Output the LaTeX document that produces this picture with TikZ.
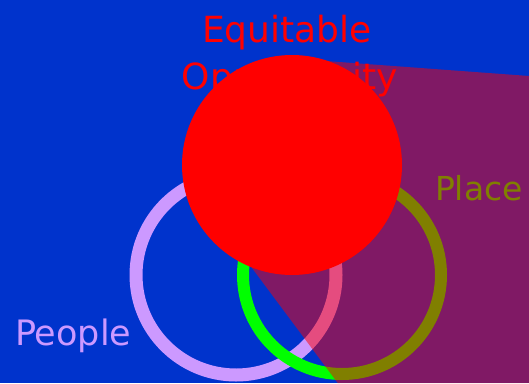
\documentclass[tikz,border=0pt]{standalone}
\usepackage{fontspec}
\setmainfont{DejaVu Sans}
\definecolor{bgblue}{HTML}{0033CC}
\definecolor{lav}{HTML}{CC99FF}
\definecolor{grn}{HTML}{00FF00}
\definecolor{rd}{HTML}{FF0000}
\tikzset{
  ring/.style={circle, draw, inner sep=0pt, outer sep=0pt, minimum size=#1},
  lbl/.style={inner sep=0pt, outer sep=0pt, anchor=base, font=\fontsize{36}{36}\selectfont},
  beam/.style={fill=rd, fill opacity=0.5},
}
\begin{document}
\begin{tikzpicture}[x=1pt, y=-1pt]
\useasboundingbox (0,0) rectangle (529,383);
\fill[bgblue] (0,0) rectangle (529,383);
% rings
\node[ring=200pt, draw=lav, line width=13pt] (people) at (236,275) {};
\node[ring=198pt, draw=grn, line width=12pt] (place) at (342,275) {};
% labels
\node[lbl, anchor=base west, text=lav, font=\fontsize{35}{35}\selectfont] (peoplelbl) at (15,345) {People};
\node[lbl, anchor=base west, text=grn, font=\fontsize{33}{33}\selectfont] (placelbl) at (435,200) {Place};
\node[lbl, text=rd] (eq) at (287,42) {Equitable};
\node[lbl, text=rd] (opp) at (290,89) {Opportunity};
% translucent beam
\path[beam]
  (292,165) -- (320,60.6) -- (529,76) -- (529,383) -- (337.7,383) -- (245,258.6) -- cycle;
% red circle
\node[circle, fill=rd, inner sep=0pt, outer sep=0pt, minimum size=220pt] (opportunity) at (292,165) {};
\end{tikzpicture}
\end{document}
